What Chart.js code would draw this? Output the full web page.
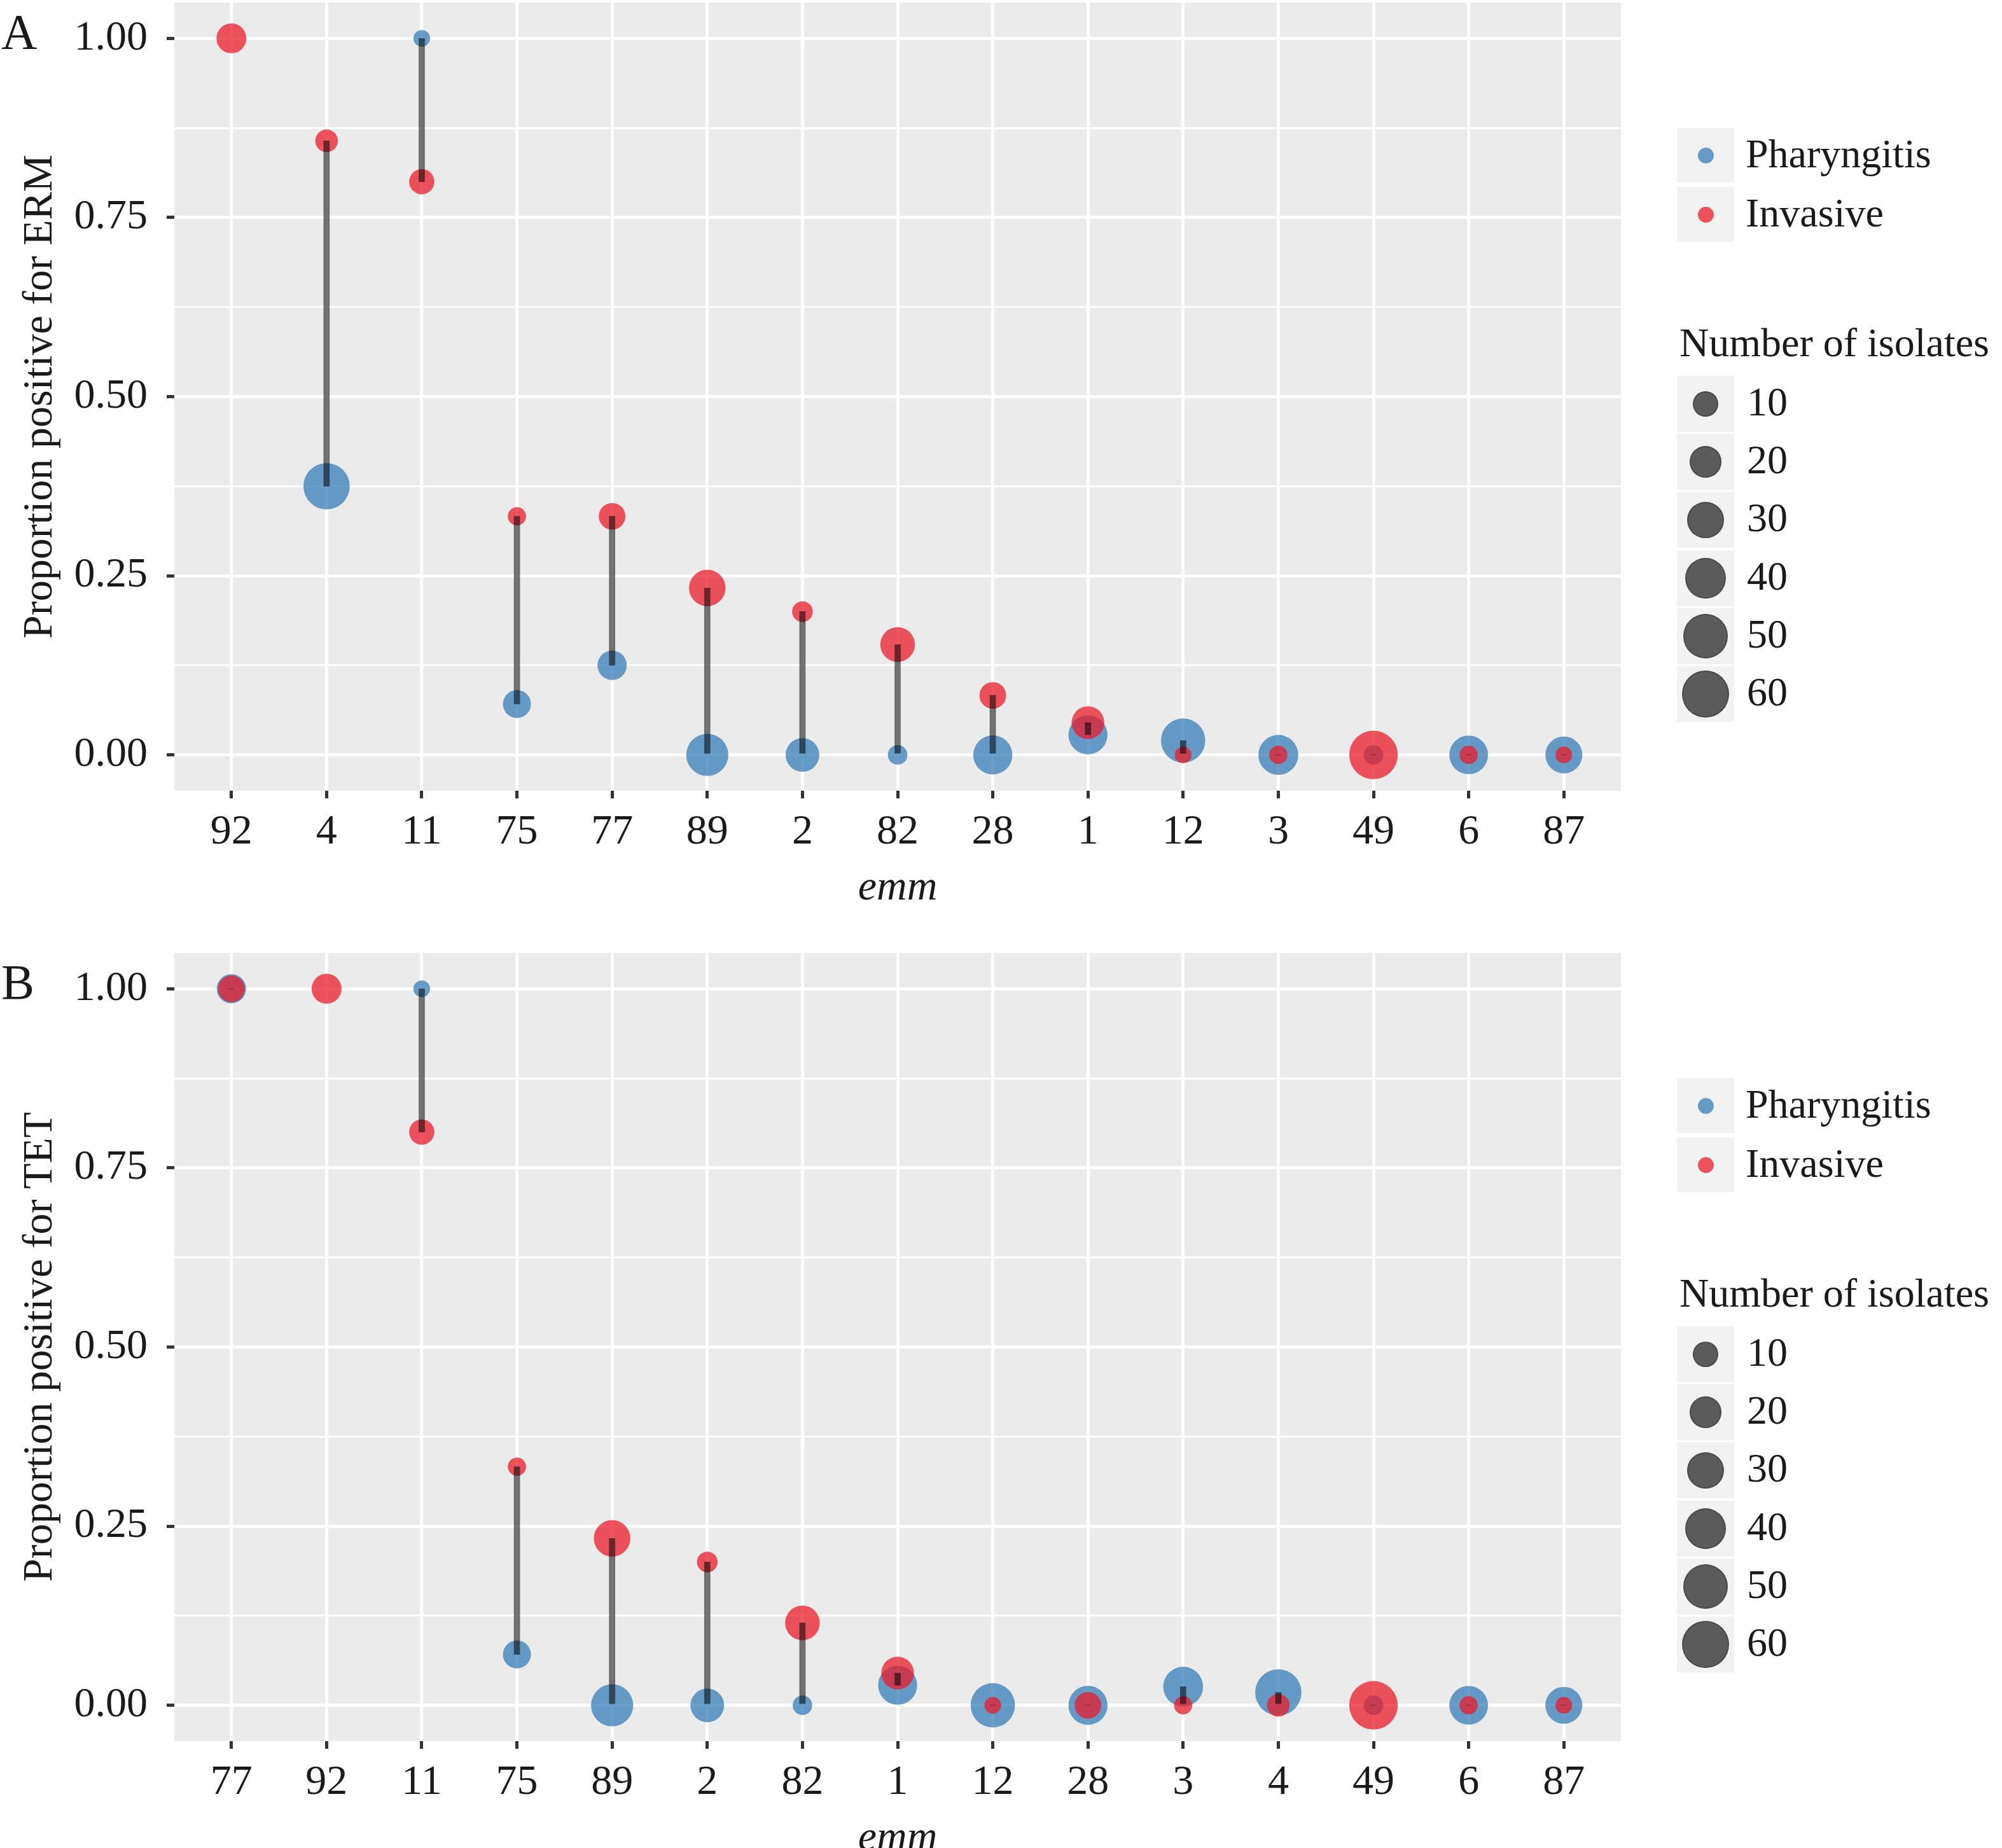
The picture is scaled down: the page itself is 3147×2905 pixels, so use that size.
<!DOCTYPE html>
<html>
<head>
<meta charset="utf-8">
<script src="https://cdn.jsdelivr.net/npm/chart.js@4.4.1/dist/chart.umd.min.js"></script>
<style>
  html, body { margin: 0; padding: 0; background: #fff; }
  body { width: 3147px; height: 2905px; overflow: hidden; position: relative;
         font-family: "Liberation Serif", "DejaVu Serif", serif; color: #1a1a1a; }
  .panel { position: absolute; left: 0; width: 3147px; height: 1494px; }
  .panel canvas { position: absolute; left: 0; top: 0; }
  .tag { position: absolute; left: 2px; font-size: 78px; line-height: 78px; }
  .key { position: absolute; left: 2636px; width: 90px; background: #f2f2f2; }
  .dot { position: absolute; border-radius: 50%; box-sizing: border-box; }
  .txt { position: absolute; font-size: 64px; line-height: 64px; white-space: nowrap; }
</style>
</head>
<body>
<div class="panel" id="panelA" style="top:0px"><canvas id="ermChart" width="2600" height="1494"></canvas></div>
<div class="panel" id="panelB" style="top:1494px"><canvas id="tetChart" width="2600" height="1494"></canvas></div>
<script>
// emm types and number of isolates per group
const emmTypes = ['92', '4', '11', '75', '77', '89', '2', '82', '28', '1', '12', '3', '49', '6', '87'];
const pharyngitisCount = [0, 56, 2, 14, 16, 44, 24, 4, 36, 36, 50, 38, 4, 35, 31];
const invasiveCount = [17, 7, 10, 3, 12, 30, 5, 26, 12, 22, 2, 3, 63, 3, 2];

// Panel A: ERM
const ermEmm = ['92', '4', '11', '75', '77', '89', '2', '82', '28', '1', '12', '3', '49', '6', '87'];
const ermPharyngitis = [null, 0.375, 1.00, 0.071, 0.125, 0, 0, 0, 0, 0.028, 0.02, 0, 0, 0, 0];
const ermInvasive = [1.00, 0.857, 0.80, 0.333, 0.333, 0.233, 0.20, 0.154, 0.083, 0.045, 0, 0, 0, 0, 0];

// Panel B: TET
const tetEmm = ['77', '92', '11', '75', '89', '2', '82', '1', '12', '28', '3', '4', '49', '6', '87'];
const tetPharyngitis = [1.00, null, 1.00, 0.071, 0, 0, 0, 0.028, 0, 0, 0.026, 0.018, 0, 0, 0];
const tetInvasive = [1.00, 1.00, 0.80, 0.333, 0.233, 0.20, 0.115, 0.045, 0, 0, 0, 0, 0, 0, 0];

const yTickValues = [0, 0.25, 0.5, 0.75, 1];
const yTickLabels = ['0.00', '0.25', '0.50', '0.75', '1.00'];
const sizeBreaks = [10, 20, 30, 40, 50, 60];

const blueFill = 'rgba(55,126,184,0.75)';
const redFill = 'rgba(232,28,40,0.75)';
const textColor = '#1a1a1a';

Chart.defaults.font.family = '"Liberation Serif", "DejaVu Serif", serif';
Chart.defaults.color = textColor;

// area-style size scale: radius grows with sqrt of the count
function sizeScale(n) {
    return 7.66 + 3.84 * Math.sqrt(n);
}

const panelBackground = {
    id: 'panelBackground',
    beforeDraw(chart) {
        const { ctx, chartArea: a } = chart;
        ctx.save();
        ctx.fillStyle = '#ebebeb';
        ctx.fillRect(a.left, a.top, a.right - a.left, a.bottom - a.top);
        ctx.restore();
    }
};

function makeChart(canvasId, categories, pharVals, invVals, yTitle) {
    const idx = categories.map(c => emmTypes.indexOf(c));
    const yMinor = yTickValues.slice(1).map((v, i) => (v + yTickValues[i]) / 2);
    const yAll = yTickValues.concat(yMinor).sort((a, b) => a - b);

    const phar = [], inv = [], segs = [];
    categories.forEach((c, i) => {
        if (pharVals[i] !== null) phar.push({ x: i, y: pharVals[i], r: sizeScale(pharyngitisCount[idx[i]]) });
        if (invVals[i] !== null) inv.push({ x: i, y: invVals[i], r: sizeScale(invasiveCount[idx[i]]) });
        if (pharVals[i] !== null && invVals[i] !== null) segs.push({ x: i, y: [pharVals[i], invVals[i]] });
    });

    return new Chart(document.getElementById(canvasId), {
        type: 'bubble',
        data: {
            datasets: [
                { type: 'bar', label: 'diff', data: segs, backgroundColor: 'rgba(0,0,0,0.55)',
                  barThickness: 9, borderWidth: 0, borderSkipped: false, order: 0 },
                { label: 'Invasive', data: inv, backgroundColor: redFill, borderWidth: 0, order: 1 },
                { label: 'Pharyngitis', data: phar, backgroundColor: blueFill, borderWidth: 0, order: 2 }
            ]
        },
        options: {
            responsive: false,
            animation: false,
            events: [],
            layout: { autoPadding: false, padding: { left: 0, top: 4, right: 52, bottom: 0 } },
            plugins: { legend: { display: false }, tooltip: { enabled: false } },
            scales: {
                x: {
                    type: 'linear', min: -0.6, max: 14.6, offset: false,
                    afterBuildTicks: s => { s.ticks = categories.map((c, i) => ({ value: i })); },
                    afterFit: s => { s.height = 251; s.paddingLeft = 0; s.paddingRight = 0; },
                    ticks: { callback: v => categories[v], font: { size: 66 }, color: textColor,
                             padding: 14, maxRotation: 0, autoSkip: false },
                    grid: { offset: false, color: '#ffffff', lineWidth: 5, tickColor: '#333',
                            tickLength: 12, tickWidth: 5 },
                    border: { display: false },
                    title: { display: true, text: 'emm', color: textColor,
                             font: { size: 66, style: 'italic' }, padding: { top: 0, bottom: 58 } }
                },
                y: {
                    type: 'linear', min: -0.05, max: 1.05,
                    afterBuildTicks: s => { s.ticks = yAll.map(v => ({ value: v })); },
                    afterFit: s => { s.width = 274; s.paddingTop = 0; s.paddingBottom = 0; },
                    ticks: {
                        callback: v => { const k = yTickValues.indexOf(v); return k >= 0 ? yTickLabels[k] : ''; },
                        font: { size: 66 }, color: textColor, padding: 30, autoSkip: false
                    },
                    grid: {
                        color: '#ffffff',
                        lineWidth: c => yTickValues.includes(c.tick.value) ? 5 : 3,
                        tickColor: c => yTickValues.includes(c.tick.value) ? '#333' : 'rgba(0,0,0,0)',
                        tickLength: 12, tickWidth: 5
                    },
                    border: { display: false },
                    title: { display: true, text: yTitle, color: textColor,
                             font: { size: 66 }, padding: { top: 24, bottom: 0 } }
                }
            }
        },
        plugins: [panelBackground]
    });
}

function addText(panel, text, left, top, size) {
    const d = document.createElement('div');
    d.className = 'txt';
    d.textContent = text;
    d.style.left = left + 'px';
    d.style.top = top + 'px';
    if (size) { d.style.fontSize = size + 'px'; d.style.lineHeight = size + 'px'; }
    panel.appendChild(d);
}

function addKey(panel, top, height, r, fill, border) {
    const k = document.createElement('div');
    k.className = 'key';
    k.style.top = top + 'px';
    k.style.height = height + 'px';
    panel.appendChild(k);
    const d = document.createElement('div');
    d.className = 'dot';
    d.style.width = d.style.height = (2 * r) + 'px';
    d.style.left = (45 - r) + 'px';
    d.style.top = (height / 2 - r) + 'px';
    d.style.background = fill;
    if (border) d.style.border = '2px solid ' + border;
    k.appendChild(d);
}

function addLegend(panelId, letter) {
    const panel = document.getElementById(panelId);
    const tag = document.createElement('div');
    tag.className = 'tag';
    tag.textContent = letter;
    tag.style.top = '11px';
    panel.appendChild(tag);

    const series = [['Pharyngitis', blueFill], ['Invasive', redFill]];
    series.forEach((s, i) => {
        const center = 244 + i * 93;
        addKey(panel, center - 43, 86, 12.5, s[1]);
        addText(panel, s[0], 2744, center - 34);
    });

    addText(panel, 'Number of isolates', 2640, 507);
    sizeBreaks.forEach((n, i) => {
        const center = 635 + i * 91.2;
        addKey(panel, center - 44, 88, sizeScale(n), 'rgba(40,40,40,0.75)', 'rgba(40,40,40,0.35)');
        addText(panel, String(n), 2746, center - 35);
    });
}

makeChart('ermChart', ermEmm, ermPharyngitis, ermInvasive, 'Proportion positive for ERM');
makeChart('tetChart', tetEmm, tetPharyngitis, tetInvasive, 'Proportion positive for TET');
addLegend('panelA', 'A');
addLegend('panelB', 'B');
</script>
</body>
</html>
